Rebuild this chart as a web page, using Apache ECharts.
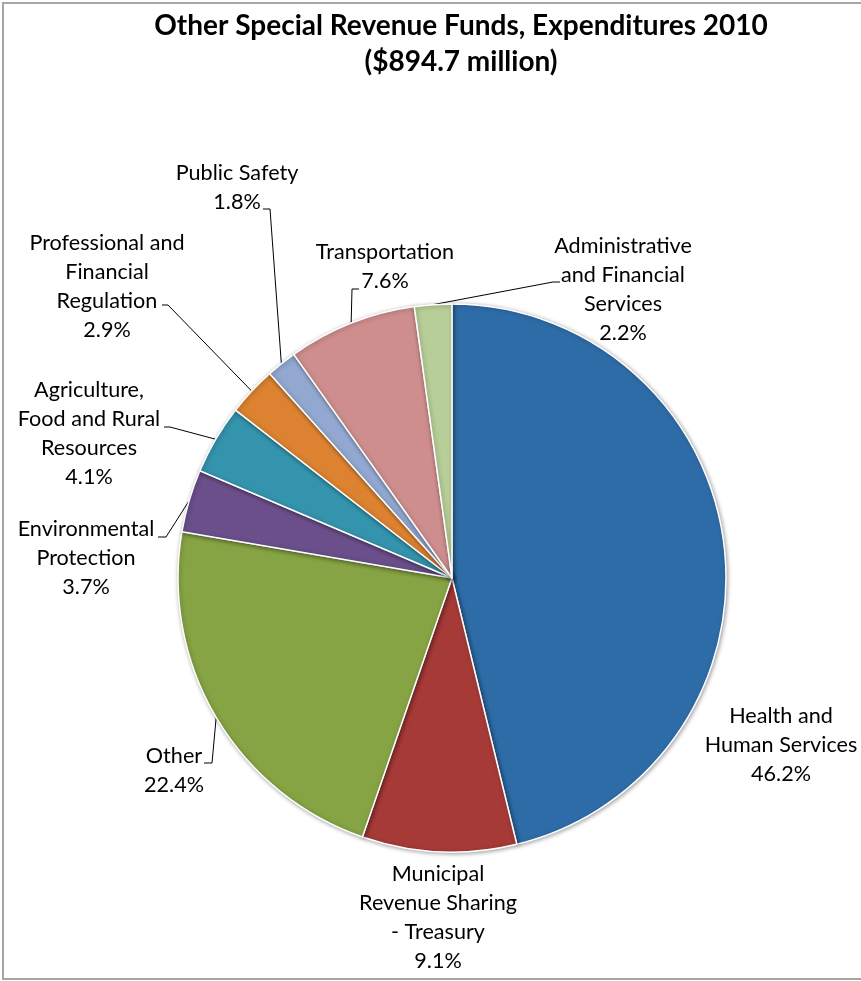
<!DOCTYPE html>
<html>
<head>
<meta charset="utf-8">
<script src="https://cdn.jsdelivr.net/npm/echarts@6/dist/echarts.min.js"></script>
<style>
  html, body { margin: 0; padding: 0; background: #fff; overflow: hidden; }
  #chart { width: 861px; height: 981px; }
</style>
</head>
<body>
<div id="chart"></div>
<script>
// Expenditure shares by function, in percent
const categories = [
  'Health and\nHuman Services',
  'Municipal\nRevenue Sharing\n- Treasury',
  'Other',
  'Environmental\nProtection',
  'Agriculture,\nFood and Rural\nResources',
  'Professional and\nFinancial\nRegulation',
  'Public Safety',
  'Transportation',
  'Administrative\nand Financial\nServices'
];
const shares = [46.2, 9.1, 22.4, 3.7, 4.1, 2.9, 1.8, 7.6, 2.2];
const colors = ['#2E6CA8', '#A63A37', '#86A443', '#6A4F8B', '#3494AD', '#DC8230', '#93A8D0', '#CF8E8E', '#B8CE98'];

const titleText = 'Other Special Revenue Funds, Expenditures 2010\n($894.7 million)';

// Pie geometry
const CX = 452, CY = 578, R = 274;

// Label placement: centre of each label block, and the label-side end of its leader line
const labelPos = [
  { x: 781, y: 745 },
  { x: 438, y: 918 },
  { x: 174, y: 771, line: [[212, 763], [204, 763]] },
  { x: 86,  y: 558, line: [[166, 537], [158, 537]] },
  { x: 89,  y: 434, line: [[170, 427], [164, 427]] },
  { x: 107, y: 287, line: [[168, 305], [162, 305]] },
  { x: 237, y: 188, line: [[270, 209], [263, 209]] },
  { x: 385, y: 267, line: [[352, 289], [359, 289]] },
  { x: 623, y: 290, line: [[553, 282], [560, 282]] }
];

// Mid-angle point on the rim of each slice (clockwise from 12 o'clock)
const total = shares.reduce((a, b) => a + b, 0);
const anchors = [];
let acc = 0;
shares.forEach(v => {
  const mid = (acc + v / 2) / total * Math.PI * 2;
  anchors.push([CX + R * Math.sin(mid), CY - R * Math.cos(mid)]);
  acc += v;
});

const chart = echarts.init(document.getElementById('chart'), null, { renderer: 'canvas' });

chart.setOption({
  backgroundColor: '#ffffff',
  animation: false,
  title: {
    text: titleText,
    left: 456,
    top: 3,
    textAlign: 'center',
    textStyle: {
      fontFamily: 'Lato',
      fontWeight: 'bold',
      fontSize: 28,
      lineHeight: 36,
      color: '#000'
    }
  },
  graphic: [{
    // chart frame: top, left and bottom edges
    type: 'polyline',
    shape: { points: [[900, 3], [3, 3], [3, 979], [900, 979]] },
    style: { fill: null, stroke: '#a6a6a6', lineWidth: 2 },
    silent: true
  }],
  series: [{
    type: 'pie',
    center: [CX, CY],
    radius: R,
    startAngle: 90,
    clockwise: true,
    avoidLabelOverlap: false,
    itemStyle: {
      borderColor: '#ffffff',
      borderWidth: 1.5,
      shadowBlur: 4,
      shadowColor: 'rgba(0,0,0,0.35)',
      shadowOffsetX: 1,
      shadowOffsetY: 1
    },
    label: {
      show: true,
      position: 'outside',
      formatter: p => p.name + '\n' + p.value.toFixed(1) + '%',
      fontFamily: 'Lato',
      fontSize: 21.6,
      lineHeight: 29,
      color: '#000',
      align: 'center'
    },
    labelLine: {
      show: true,
      lineStyle: { color: '#000', width: 1 }
    },
    labelLayout: function (params) {
      const i = params.dataIndex;
      const pos = labelPos[i];
      const out = { x: pos.x, y: pos.y, align: 'center', verticalAlign: 'middle' };
      if (pos.line) {
        out.labelLinePoints = [anchors[i], pos.line[0], pos.line[1]];
      }
      return out;
    },
    data: categories.map((name, i) => ({
      name: name,
      value: shares[i],
      itemStyle: { color: colors[i] },
      labelLine: { show: !!labelPos[i].line }
    }))
  }]
});
</script>
</body>
</html>
